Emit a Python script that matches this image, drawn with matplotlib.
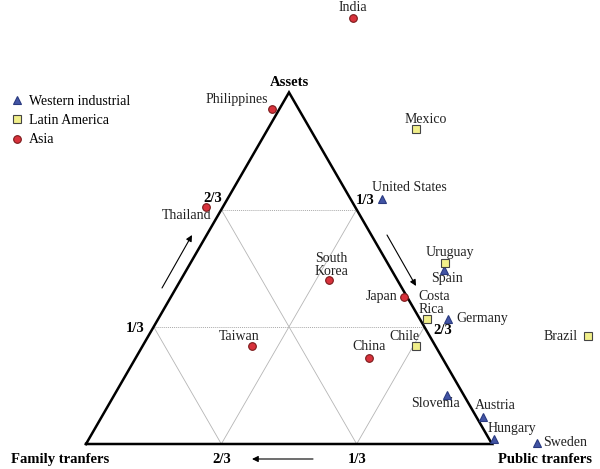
import numpy as np
import matplotlib
matplotlib.use('Agg')
import matplotlib.pyplot as plt

plt.rcParams['font.family'] = ['Liberation Serif', 'DejaVu Serif']

# datos: participaciones (assets, public), family = 1 - assets - public
western = ['United States', 'Spain', 'Germany', 'Slovenia', 'Austria', 'Hungary', 'Sweden']
western_assets = [0.698, 0.496, 0.356, 0.140, 0.077, 0.014, 0.003]
western_public = [0.380, 0.634, 0.714, 0.819, 0.940, 0.998, 1.110]

latin = ['Mexico', 'Uruguay', 'Costa\nRica', 'Chile', 'Brazil']
latin_assets = [0.895, 0.516, 0.356, 0.279, 0.308]
latin_public = [0.366, 0.626, 0.662, 0.673, 1.082]

asia = ['India', 'Philippines', 'Thailand', 'South\nKorea', 'Taiwan', 'Japan', 'China']
asia_assets = [1.211, 0.954, 0.675, 0.467, 0.279, 0.419, 0.245]
asia_public = [0.052, -0.019, -0.042, 0.365, 0.269, 0.574, 0.574]

# posicion de etiquetas (dx, dy en pixeles, ha)
lab_west = [(27, 11, 'center'), (3, -9, 'center'), (8, 0, 'left'), (-11, -9, 'center'),
            (12, 11, 'center'), (18, 11, 'center'), (6, 0, 'left')]
lab_latin = [(9, 10, 'center'), (5, 10, 'center'), (-9, 16, 'left'), (-11, 9, 'center'),
             (-10, -1, 'right')]
lab_asia = [(0, 11, 'center'), (-4, 9, 'right'), (5, -9, 'right'), (2, 15, 'center'),
            (-13, 9, 'center'), (-7, 0, 'right'), (0, 11, 'center')]

s3 = np.sqrt(3)/2

def tern(a, p):
    a = np.asarray(a); p = np.asarray(p)
    return p + a/2, a*s3

def px(x, y):
    # pixel -> coordenadas del triangulo
    return (x-86)/406, (444-y)/406

fig = plt.figure(figsize=(6, 4.69), dpi=100)
ax = fig.add_axes([0, 0, 1, 1])
ax.set_xlim(-86/406, 514/406)
ax.set_ylim(-25/406, 444/406)
ax.axis('off')

# grilla
for k in [1/3, 2/3]:
    # assets constante
    x, y = tern([k, k], [0, 1-k])
    ax.plot(x, y, color='#aaaaaa', lw=0.7, ls=(0, (1, 1)), zorder=1)
    # public constante
    x, y = tern([0, 1-k], [k, k])
    ax.plot(x, y, color='#b5b5b5', lw=0.6, zorder=1)
    # family constante
    x, y = tern([0, 1-k], [1-k, 0])
    ax.plot(x, y, color='#b5b5b5', lw=0.6, zorder=1)

# triangulo
x, y = tern([0, 0, 1, 0], [0, 1, 0, 0])
ax.plot(x, y, color='black', lw=1.8, solid_joinstyle='miter', zorder=2)

# series
groups = [
    (western, western_assets, western_public, lab_west, '^', '#4254a5', '#2a3a80', 5.5, 'Western industrial'),
    (latin, latin_assets, latin_public, lab_latin, 's', '#f1ef8a', '#444444', 5.5, 'Latin America'),
    (asia, asia_assets, asia_public, lab_asia, 'o', '#d8323c', '#7a1a1a', 5.5, 'Asia'),
]
for names, aa, pp, labs, m, fc, ec, ms, lab in groups:
    x, y = tern(aa, pp)
    ax.plot(x, y, ls='none', marker=m, ms=ms, mfc=fc, mec=ec, mew=0.8, label=lab, zorder=4)
    for n, xi, yi, (dx, dy, ha) in zip(names, x, y, labs):
        ax.annotate(n, (xi, yi), xytext=(dx, dy), textcoords='offset pixels',
                    ha=ha, va='center', fontsize=10, color='#222222',
                    linespacing=1.0, multialignment=ha)

leg = ax.legend(loc='upper left', bbox_to_anchor=(-0.008, 0.833), frameon=False,
                fontsize=10, handlelength=0.8, handletextpad=0.45, labelspacing=0.45,
                borderaxespad=0.8)

# titulos de ejes
bold = dict(fontsize=10.5, fontweight='bold', ha='center', va='center')
ax.text(*px(289, 83), 'Assets', **bold)
ax.text(*px(60, 459), 'Family tranfers', **bold)
ax.text(*px(545, 459), 'Public tranfers', **bold)
for xx, yy, t in [(222, 459, '2/3'), (357, 459, '1/3'), (135, 329, '1/3'), (213, 199, '2/3'),
                  (365, 200, '1/3'), (443, 330, '2/3')]:
    ax.text(*px(xx, yy), t, **bold)

# flechas
arr = dict(arrowstyle='-|>', color='black', lw=0.8, mutation_scale=9, shrinkA=0, shrinkB=0)
ax.annotate('', xy=px(192, 235), xytext=px(162, 288), arrowprops=arr)
ax.annotate('', xy=px(416, 286), xytext=px(387, 235), arrowprops=arr)
ax.annotate('', xy=px(252, 459), xytext=px(313, 459), arrowprops=arr)

fig.savefig('out.png', dpi=100)
